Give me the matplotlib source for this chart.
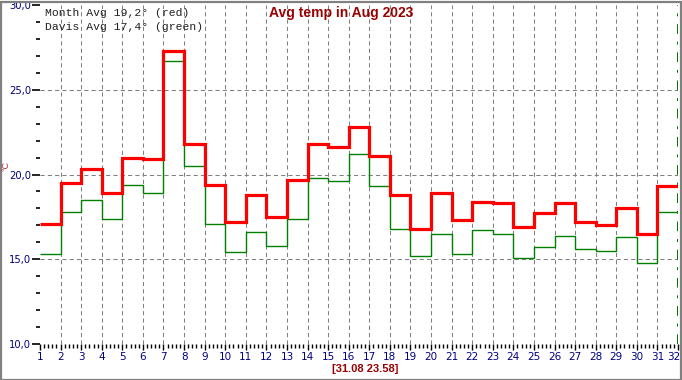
import numpy as np
from matplotlib import pyplot as plt
from matplotlib.patches import Rectangle
from matplotlib.ticker import MultipleLocator, FixedLocator
from matplotlib.transforms import ScaledTranslation

# daily averages for August 2023 (day 1..31)
days = list(range(1, 33))
month_avg = [17.1, 19.5, 20.3, 18.9, 21.0, 20.9, 27.3, 21.8, 19.4, 17.2,
             18.8, 17.5, 19.7, 21.8, 21.6, 22.8, 21.1, 18.8, 16.8, 18.9,
             17.3, 18.4, 18.3, 16.9, 17.7, 18.3, 17.2, 17.0, 18.0, 16.5, 19.3]
davis_avg = [15.3, 17.8, 18.5, 17.4, 19.4, 18.9, 26.7, 20.5, 17.1, 15.4,
             16.6, 15.8, 17.4, 19.8, 19.6, 21.2, 19.3, 16.8, 15.2, 16.5,
             15.3, 16.7, 16.5, 15.1, 15.7, 16.4, 15.6, 15.5, 16.3, 14.8, 17.8]
y_ticks = [10.0, 15.0, 20.0, 25.0, 30.0]
y_labels = ["10,0", "15,0", "20,0", "25,0", "30,0"]

W, H = 682, 380
fig = plt.figure(figsize=(W / 100, H / 100), dpi=100)
fig.patch.set_facecolor("white")

def px(x, y):
    """pixel coords -> figure fraction"""
    return x / W, 1 - y / H

left, top = px(40, 5)
right, bottom = px(678, 344)
ax = fig.add_axes([left, bottom, right - left, top - bottom])
ax.set_xlim(1, 32)
ax.set_ylim(10, 30)
for s in ax.spines.values():
    s.set_visible(False)

# grid
gkw = dict(color="#808080", linewidth=0.75, dashes=(4, 3), zorder=1)
for d in days[1:-1]:
    ax.axvline(d, **gkw)
for v in y_ticks[1:-1]:
    ax.axhline(v, **gkw)
ax.axvline(32, color="#007000", linewidth=1.4, dashes=(5, 4, 1.5, 4), zorder=1)

ax.stairs(davis_avg, edges=days, color="#008000", linewidth=1.0, baseline=None, zorder=3)
ax.stairs(month_avg, edges=days, color="#ff0000", linewidth=2.3, baseline=None, zorder=4)

# ticks
ax.yaxis.set_major_locator(FixedLocator(y_ticks))
ax.set_yticklabels(y_labels)
ax.yaxis.set_minor_locator(MultipleLocator(1))
ax.xaxis.set_major_locator(FixedLocator(days))
ax.set_xticklabels([str(d) for d in days])
ax.xaxis.set_minor_locator(MultipleLocator(0.2))
ax.tick_params(axis="y", which="major", length=5.5, width=1.2, pad=1,
               labelsize=7.2, labelcolor="#000080", color="black")
ax.tick_params(axis="y", which="minor", length=3, width=1.2, color="black")
ax.tick_params(axis="x", which="major", length=4.5, width=1.0, pad=1.5,
               labelsize=7.5, labelcolor="#000080", color="black")
ax.tick_params(axis="x", which="minor", length=3, width=1.0, color="black")

# last day label sits at the right edge
last = ax.get_xticklabels()[-1]
last.set_horizontalalignment("right")
last.set_transform(last.get_transform() + ScaledTranslation(2 / 100, 0, fig.dpi_scale_trans))

# texts
fig.text(*px(341, 13), "Avg temp in Aug 2023", ha="center", va="center",
         fontsize=10, fontweight="bold", color="#990000", family="Liberation Sans")
fig.text(*px(45, 13), "Month Avg 19,2° (red)", ha="left", va="center",
         fontsize=8.2, color="#202020", family="Liberation Mono")
fig.text(*px(45, 27), "Davis Avg 17,4° (green)", ha="left", va="center",
         fontsize=8.2, color="#202020", family="Liberation Mono")
fig.text(*px(6, 166), "°C", ha="center", va="center", rotation=90,
         fontsize=6.5, color="#b03040", family="Liberation Sans")
fig.text(*px(365, 369), "[31.08 23.58]", ha="center", va="center",
         fontsize=8, fontweight="bold", color="#990000", family="Liberation Sans")

# frame around the picture
fig.patches.append(Rectangle((0.5 / W, 0.5 / H), 1 - 2 / W, 1 - 2 / H,
                             transform=fig.transFigure, fill=False,
                             edgecolor="#808080", linewidth=1.6))

fig.savefig("out.png", dpi=100)
